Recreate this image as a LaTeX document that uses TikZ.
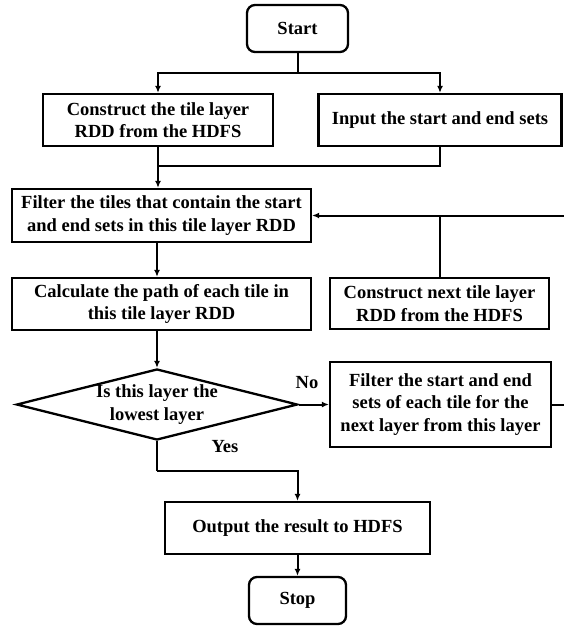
\documentclass[tikz,border=0pt]{standalone}
\usepackage{fontspec}
\setmainfont{Liberation Serif}
\usetikzlibrary{arrows.meta,shapes.geometric}
\begin{document}
\begin{tikzpicture}[x=1pt,y=-1pt,
  every node/.style={font=\fontsize{18.5}{22.5}\selectfont\bfseries, align=center, inner sep=0pt},
  box/.style={draw, line width=2.3pt, rectangle},
  term/.style={draw, line width=2.3pt, rectangle, rounded corners=8pt},
  conn/.style={line width=2pt},
  arr/.style={line width=2pt, -{Latex[length=7pt,width=6pt]}}]
\useasboundingbox (0,0) rectangle (564,629);
\node[term, minimum width=101pt, minimum height=47pt] (start) at (297.5,28.5) {Start};
\node[box, minimum width=230pt, minimum height=52pt] (b1) at (158,120) {Construct the tile layer\\RDD from the HDFS};
\node[box, minimum width=243pt, minimum height=52pt] (b2) at (440,120) {Input the start and end sets};
\node[box, minimum width=299pt, minimum height=53pt] (b3) at (161.5,215.5) {Filter the tiles that contain the start\\and end sets in this tile layer RDD};
\node[box, minimum width=299pt, minimum height=52pt] (b4) at (161.5,304) {Calculate the path of each tile in\\this tile layer RDD};
\node[box, minimum width=219pt, minimum height=51pt] (b5) at (439.5,303.5) {Construct next tile layer\\RDD from the HDFS};
\node[draw, diamond, line width=2.3pt, minimum width=281pt, minimum height=71pt] (d) at (157,404.5) {};
\node (dtext) at (d.center) {Is this layer the\\lowest layer};
\node[box, minimum width=221pt, minimum height=85pt] (b6) at (440.5,404.5) {Filter the start and end\\sets of each tile for the\\next layer from this layer};
\node[box, minimum width=265pt, minimum height=52pt] (b7) at (297.5,528) {Output the result to HDFS};
\node[term, minimum width=97pt, minimum height=47pt] (stop) at (297.5,600.5) {Stop};
\node (no) at (307,383) {No};
\node (yes) at (225,447) {Yes};
\coordinate (split) at (297.5,73);
\coordinate (merge) at (158,166);
\coordinate (re1) at (566,216);
\coordinate (re2) at (566,404.5);
\coordinate (turn) at (157,471);
% connectors
\draw[conn] (start.south) -- (split);
\draw[arr] (split) -| (b1.north);
\draw[arr] (split) -| (b2.north);
\draw[conn] (b1.south) -- (merge);
\draw[conn] (b2.south) |- (merge);
\draw[arr] (merge) -- (merge |- b3.north);
\draw[arr] (re1) -- (re1 |- b3.east) -- (b3.east);
\draw[conn] (b5.north) -- (b5.north |- re1);
\draw[arr] (d.north |- b3.south) -- (d.north |- b4.north);
\draw[arr] (d.north |- b4.south) -- (d.north);
\draw[arr] (d.east) -- (b6.west);
\draw[conn] (b6.east) -- (re2);
\draw[conn] (d.south) -- (turn);
\draw[arr] (turn) -| (b7.north);
\draw[arr] (b7.south) -- (stop.north);
\end{tikzpicture}
\end{document}
